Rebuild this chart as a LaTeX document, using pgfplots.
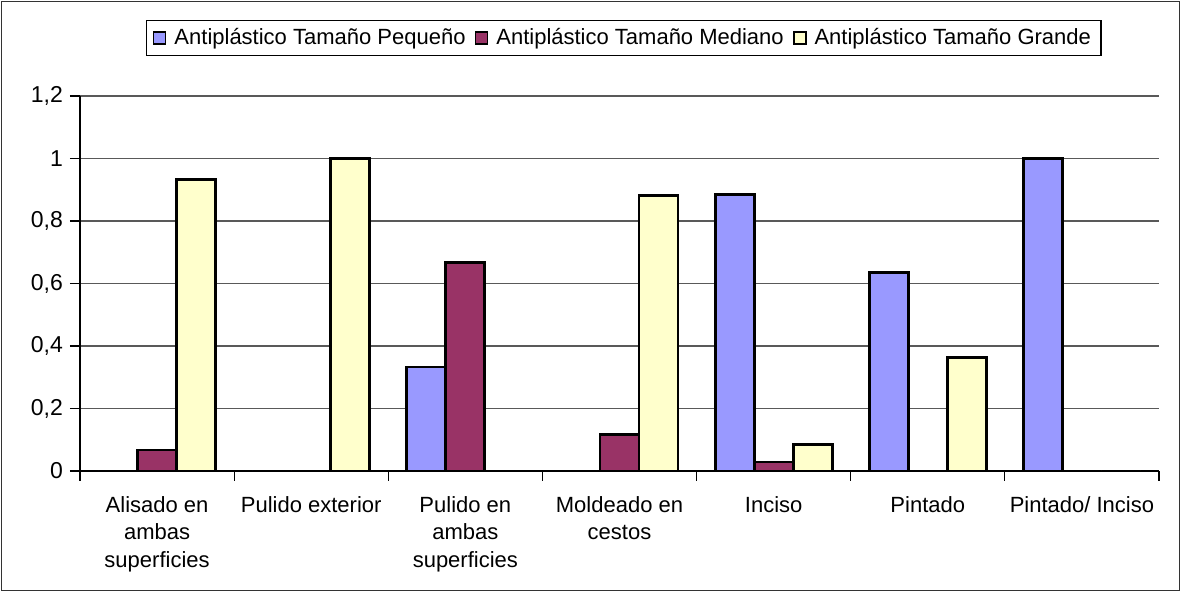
\documentclass[border=0pt]{standalone}
\usepackage{pgfplots}
\pgfplotsset{compat=1.18}
\usepackage{fontspec}
\setmainfont{Liberation Sans}

\definecolor{cpeq}{HTML}{9999FF}
\definecolor{cmed}{HTML}{993366}
\definecolor{cgra}{HTML}{FFFFCC}

\begin{document}
\begin{tikzpicture}
    % outer chart frame, also the page size
    \draw[black!80, line width=0.6pt] (-39.2pt,-59.8pt) rectangle (549.8pt,234.8pt);
    \useasboundingbox (-40pt,-60.5pt) rectangle (550.5pt,235.5pt);
    \begin{axis}[
        scale only axis,
        width=539.5pt,
        height=187.5pt,
        ybar=0pt,
        bar width=0.253,
        font=\fontsize{11}{13.75}\selectfont,
        xmin=-0.5, xmax=6.5,
        ymin=0, ymax=1.2,
        ytick={0,0.2,...,1.2},
        yticklabel style={/pgf/number format/use comma, /pgf/number format/fixed,
            font=\fontsize{11.5}{13.75}\selectfont},
        /pgf/number format/assume math mode=true,
        xtick={0,...,6},
        xticklabels={{Alisado en\\ambas\\superficies},{Pulido exterior},{Pulido en\\ambas\\superficies},{Moldeado en\\cestos},{Inciso},{Pintado},{Pintado/ Inciso}},
        xticklabel style={align=center, yshift=-4pt},
        major x tick style={draw=none},
        minor xtick={-0.5,0.5,...,6.5},
        tick align=outside,
        major tick length=5pt,
        minor tick length=5pt,
        tick style={black, line width=0.6pt},
        axis x line*=bottom,
        axis y line*=left,
        axis line style={black, line width=0.6pt, -},
        ymajorgrids,
        grid style={black!65, line width=0.6pt},
        legend style={at={(0.504,1)}, anchor=south, yshift=20pt,
            draw=black, line width=0.6pt, legend columns=-1,
            font=\fontsize{11}{13}\selectfont,
            inner xsep=3pt, inner ysep=2pt,
            /tikz/every even column/.append style={column sep=2.5pt},
            /tikz/every odd column/.append style={column sep=2pt}},
        legend image code/.code={\draw[#1, line width=0.9pt] (0pt,-3pt) rectangle (6pt,3pt);},
    ]
        \addplot[draw=black, line width=1.4pt, fill=cpeq] coordinates {(0,0) (1,0) (2,0.333) (3,0) (4,0.886) (5,0.636) (6,1)};
        \addplot[draw=black, line width=1.4pt, fill=cmed] coordinates {(0,0.067) (1,0) (2,0.667) (3,0.118) (4,0.029) (5,0) (6,0)};
        \addplot[draw=black, line width=1.4pt, fill=cgra] coordinates {(0,0.933) (1,1) (2,0) (3,0.882) (4,0.086) (5,0.364) (6,0)};
        \legend{Antiplástico Tamaño Pequeño, Antiplástico Tamaño Mediano, Antiplástico Tamaño Grande}
    \end{axis}
\end{tikzpicture}
\end{document}
